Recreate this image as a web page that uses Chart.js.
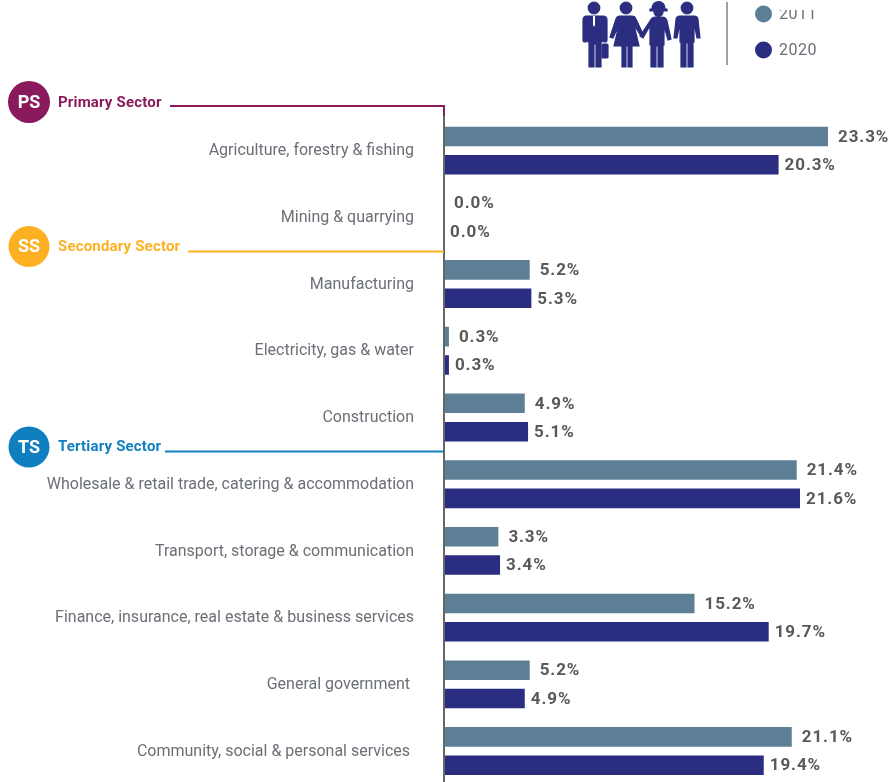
<!DOCTYPE html>
<html><head><meta charset="utf-8">
<style>
html,body{margin:0;padding:0;background:#fff;width:890px;height:782px;overflow:hidden;position:relative}
canvas{position:absolute;left:0;top:0;filter:blur(0.45px)}
svg{position:absolute;left:0;top:0;filter:blur(0.45px)}
</style>
<script src="https://cdn.jsdelivr.net/npm/chart.js@4/dist/chart.umd.min.js"></script>
</head><body>
<canvas id="c" width="890" height="824"></canvas>
<svg width="890" height="80" viewBox="0 0 890 80" fill="#2b2d80" stroke="#2b2d80" stroke-width="1.2">
  <circle cx="594" cy="8" r="5.8"/>
  <path d="M585 16h18q4 0 4 4v20q0 2-2 2t-2-2v-17h-1v19h-1v25h-5v-23h-2v23h-5v-25h-1v-19h-1v17q0 2-2 2t-2-2v-20q0-4 4-4z"/>
  <rect x="602" y="44" width="6" height="14" rx="1"/>
  <path d="M593 16h2v9l-1 2-1-2z" fill="#fff" stroke="none"/>
  <circle cx="626" cy="8" r="5.8"/>
  <path d="M620 16h12q3 0 4 3l7 15-2 2-7-11 5 21h-7v21h-4v-21h-2v21h-4v-21h-8l5-21-6 13-3-1 6-18q1-3 4-3z"/>
  <path d="M640 36l10-15q2-4 5-4h7q4 0 5 4l4 18-3 1-4-14v19h-1v22h-5v-21h-2v21h-5v-22h-1v-19l-7 12z"/>
  <path d="M652 8a6.500 6.500 0 0 1 13 0v1h2v2h-17v-2h2z"/><circle cx="658.500" cy="12" r="4.500"/>
  <circle cx="687" cy="8" r="5.800"/>
  <path d="M680 16h14q4 0 4 4l2 18h-3l-3-15v19h-1v25h-5v-24h-2v24h-5v-25h-1v-19l-3 15h-3l2-18q0-4 4-4z"/>
</svg>
<script>
const categories = ["Agriculture, forestry & fishing","Mining & quarrying","Manufacturing","Electricity, gas & water","Construction","Wholesale & retail trade, catering & accommodation","Transport, storage & communication","Finance, insurance, real estate & business services","General government ","Community, social & personal services "];
const seriesNames = ["2011","2020"];
const values2011 = [23.3,0.0,5.2,0.3,4.9,21.4,3.3,15.2,5.2,21.1];
const values2020 = [20.3,0.0,5.3,0.3,5.1,21.6,3.4,19.7,4.9,19.4];
const seriesColors = ["#5d7f96","#2b2d80"];
const sectorNames = ["Primary Sector","Secondary Sector","Tertiary Sector"];
const sectorCodes = ["PS","SS","TS"];
const sectorColors = ["#8a1a5c","#fdb022","#0f7fc0"];

const overlay = {
  id:'overlay',
  afterDatasetsDraw(chart){
    const ctx = chart.ctx;
    ctx.save();
    ctx.textBaseline='middle';
    const lblOffset=[10,6];
    ctx.font='bold 17px Roboto'; ctx.fillStyle='#595959'; ctx.textAlign='left';
    ctx.letterSpacing='0.9px';
    chart.data.datasets.forEach((ds,i)=>{
      chart.getDatasetMeta(i).data.forEach((bar,j)=>{
        ctx.fillText(ds.data[j].toFixed(1)+'%', bar.x+lblOffset[i], bar.y+1);
      });
    });
    const ax = chart.chartArea.left;
    ctx.strokeStyle='#666'; ctx.lineWidth=2;
    ctx.beginPath(); ctx.moveTo(ax,116); ctx.lineTo(ax,782); ctx.stroke();
    const sec=[{cy:102,ly:106,lx:170,ty:103,r:21},{cy:246.5,ly:251.5,lx:188,ty:247,r:20.5},{cy:447,ly:451.5,lx:165,ty:447,r:20.5}];
    sec.forEach((s,i)=>{
      ctx.strokeStyle=sectorColors[i]; ctx.lineWidth=2;
      ctx.beginPath(); ctx.moveTo(s.lx,s.ly); ctx.lineTo(ax,s.ly);
      if(i===0) ctx.lineTo(ax,116);
      ctx.stroke();
      ctx.fillStyle=sectorColors[i];
      ctx.beginPath(); ctx.arc(29,s.cy,s.r,0,Math.PI*2); ctx.fill();
      ctx.letterSpacing='0px';
      ctx.fillStyle='#fff'; ctx.font='bold 18px Roboto'; ctx.textAlign='center';
      ctx.fillText(sectorCodes[i],29,s.cy+1);
      ctx.letterSpacing='0.18px';
      ctx.fillStyle=sectorColors[i]; ctx.font='bold 15px Roboto'; ctx.textAlign='left';
      ctx.fillText(sectorNames[i],58,s.ty+0.5);
    });
    ctx.strokeStyle='#a0a0a0'; ctx.lineWidth=2;
    ctx.beginPath(); ctx.moveTo(727,2); ctx.lineTo(727,65); ctx.stroke();
    const ly=[14,50];
    seriesNames.forEach((n,i)=>{
      ctx.fillStyle=seriesColors[i];
      ctx.beginPath(); ctx.arc(763.5,ly[i],8.5,0,Math.PI*2); ctx.fill();
      ctx.save();
      ctx.beginPath(); ctx.rect(770,i===0?10:30,80,30); ctx.clip();
      ctx.fillStyle='#6b6f76'; ctx.font='16px Roboto'; ctx.textAlign='left';
      ctx.letterSpacing='0.5px';
      ctx.fillText(n,779,ly[i]+1);
      ctx.restore();
    });
    ctx.restore();
  }
};

new Chart(document.getElementById('c'),{
  type:'bar',
  data:{labels:categories,datasets:[
    {label:seriesNames[0],data:values2011,backgroundColor:seriesColors[0],categoryPercentage:0.85,barPercentage:0.69},
    {label:seriesNames[1],data:values2020,backgroundColor:seriesColors[1],categoryPercentage:0.85,barPercentage:0.69}
  ]},
  plugins:[overlay],
  options:{
    indexAxis:'y',responsive:false,animation:false,
    layout:{padding:{top:117.3,bottom:16,left:0,right:1}},
    plugins:{legend:{display:false},tooltip:{enabled:false}},
    scales:{
      x:{display:false,min:0,max:27},
      y:{
        afterFit(s){s.width=444;},
        grid:{display:false,drawTicks:false},
        border:{display:false},
        ticks:{padding:30,labelOffset:0.7,color:'#6b6f76',font:{family:'Roboto',size:16},crossAlign:'near',autoSkip:false}
      }
    }
  }
});
</script>
</body></html>
